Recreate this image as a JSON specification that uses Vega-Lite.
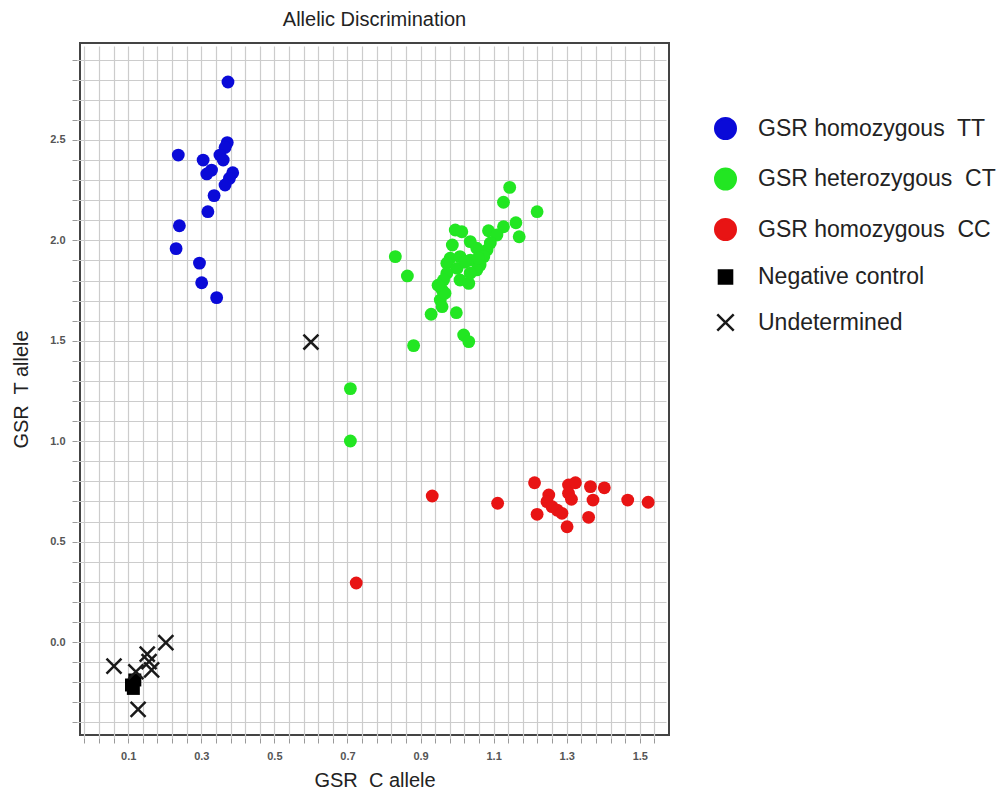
{
  "$schema": "https://vega.github.io/schema/vega-lite/v6.json",
  "autosize": {"type": "none"},
  "padding": {"left": 80, "top": 43, "right": 337, "bottom": 61},
  "width": 589,
  "height": 692,
  "background": "white",
  "config": {
    "font": "Liberation Sans",
    "view": {"stroke": "#444444", "strokeWidth": 2},
    "axis": {"domain": false, "gridColor": "#cccccc", "gridWidth": 1.2, "tickColor": "#9a9a9a", "tickSize": 5, "tickWidth": 1, "offset": 3, "labelPadding": 7, "labelColor": "#555555", "labelFontSize": 11, "labelFontWeight": "bold", "titleFontSize": 20, "titleFontWeight": "normal", "titleColor": "#222222"}
  },
  "title": {"text": "Allelic Discrimination", "fontSize": 20, "fontWeight": "normal", "color": "#222222", "anchor": "middle", "offset": 13},
  "data": {"values": [
    {"g": "GSR homozygous\u00a0 TT", "x": 0.373, "y": 2.789},
    {"g": "GSR homozygous\u00a0 TT", "x": 0.237, "y": 2.425},
    {"g": "GSR homozygous\u00a0 TT", "x": 0.305, "y": 2.400},
    {"g": "GSR homozygous\u00a0 TT", "x": 0.371, "y": 2.487},
    {"g": "GSR homozygous\u00a0 TT", "x": 0.365, "y": 2.463},
    {"g": "GSR homozygous\u00a0 TT", "x": 0.351, "y": 2.425},
    {"g": "GSR homozygous\u00a0 TT", "x": 0.360, "y": 2.400},
    {"g": "GSR homozygous\u00a0 TT", "x": 0.328, "y": 2.350},
    {"g": "GSR homozygous\u00a0 TT", "x": 0.315, "y": 2.331},
    {"g": "GSR homozygous\u00a0 TT", "x": 0.386, "y": 2.337},
    {"g": "GSR homozygous\u00a0 TT", "x": 0.377, "y": 2.309},
    {"g": "GSR homozygous\u00a0 TT", "x": 0.365, "y": 2.276},
    {"g": "GSR homozygous\u00a0 TT", "x": 0.335, "y": 2.223},
    {"g": "GSR homozygous\u00a0 TT", "x": 0.318, "y": 2.143},
    {"g": "GSR homozygous\u00a0 TT", "x": 0.240, "y": 2.073},
    {"g": "GSR homozygous\u00a0 TT", "x": 0.231, "y": 1.959},
    {"g": "GSR homozygous\u00a0 TT", "x": 0.295, "y": 1.887},
    {"g": "GSR homozygous\u00a0 TT", "x": 0.301, "y": 1.789},
    {"g": "GSR homozygous\u00a0 TT", "x": 0.342, "y": 1.715},
    {"g": "GSR heterozygous\u00a0 CT", "x": 1.144, "y": 2.264},
    {"g": "GSR heterozygous\u00a0 CT", "x": 1.127, "y": 2.190},
    {"g": "GSR heterozygous\u00a0 CT", "x": 1.219, "y": 2.143},
    {"g": "GSR heterozygous\u00a0 CT", "x": 1.161, "y": 2.088},
    {"g": "GSR heterozygous\u00a0 CT", "x": 1.127, "y": 2.068},
    {"g": "GSR heterozygous\u00a0 CT", "x": 1.170, "y": 2.018},
    {"g": "GSR heterozygous\u00a0 CT", "x": 1.086, "y": 2.048},
    {"g": "GSR heterozygous\u00a0 CT", "x": 1.109, "y": 2.027},
    {"g": "GSR heterozygous\u00a0 CT", "x": 0.995, "y": 2.052},
    {"g": "GSR heterozygous\u00a0 CT", "x": 1.013, "y": 2.043},
    {"g": "GSR heterozygous\u00a0 CT", "x": 1.036, "y": 1.994},
    {"g": "GSR heterozygous\u00a0 CT", "x": 1.082, "y": 1.952},
    {"g": "GSR heterozygous\u00a0 CT", "x": 1.054, "y": 1.961},
    {"g": "GSR heterozygous\u00a0 CT", "x": 1.073, "y": 1.919},
    {"g": "GSR heterozygous\u00a0 CT", "x": 0.981, "y": 1.911},
    {"g": "GSR heterozygous\u00a0 CT", "x": 1.008, "y": 1.919},
    {"g": "GSR heterozygous\u00a0 CT", "x": 1.036, "y": 1.902},
    {"g": "GSR heterozygous\u00a0 CT", "x": 1.063, "y": 1.877},
    {"g": "GSR heterozygous\u00a0 CT", "x": 0.972, "y": 1.886},
    {"g": "GSR heterozygous\u00a0 CT", "x": 1.000, "y": 1.861},
    {"g": "GSR heterozygous\u00a0 CT", "x": 1.054, "y": 1.853},
    {"g": "GSR heterozygous\u00a0 CT", "x": 0.831, "y": 1.919},
    {"g": "GSR heterozygous\u00a0 CT", "x": 0.864, "y": 1.823},
    {"g": "GSR heterozygous\u00a0 CT", "x": 0.972, "y": 1.836},
    {"g": "GSR heterozygous\u00a0 CT", "x": 0.963, "y": 1.803},
    {"g": "GSR heterozygous\u00a0 CT", "x": 1.008, "y": 1.803},
    {"g": "GSR heterozygous\u00a0 CT", "x": 1.032, "y": 1.786},
    {"g": "GSR heterozygous\u00a0 CT", "x": 0.959, "y": 1.753},
    {"g": "GSR heterozygous\u00a0 CT", "x": 0.954, "y": 1.703},
    {"g": "GSR heterozygous\u00a0 CT", "x": 0.959, "y": 1.670},
    {"g": "GSR heterozygous\u00a0 CT", "x": 0.929, "y": 1.632},
    {"g": "GSR heterozygous\u00a0 CT", "x": 0.998, "y": 1.640},
    {"g": "GSR heterozygous\u00a0 CT", "x": 1.018, "y": 1.529},
    {"g": "GSR heterozygous\u00a0 CT", "x": 1.032, "y": 1.496},
    {"g": "GSR heterozygous\u00a0 CT", "x": 0.881, "y": 1.476},
    {"g": "GSR heterozygous\u00a0 CT", "x": 0.987, "y": 1.977},
    {"g": "GSR heterozygous\u00a0 CT", "x": 1.022, "y": 1.892},
    {"g": "GSR heterozygous\u00a0 CT", "x": 1.058, "y": 1.912},
    {"g": "GSR heterozygous\u00a0 CT", "x": 1.091, "y": 1.987},
    {"g": "GSR heterozygous\u00a0 CT", "x": 0.967, "y": 1.737},
    {"g": "GSR heterozygous\u00a0 CT", "x": 1.036, "y": 1.837},
    {"g": "GSR heterozygous\u00a0 CT", "x": 0.948, "y": 1.777},
    {"g": "GSR heterozygous\u00a0 CT", "x": 0.708, "y": 1.262},
    {"g": "GSR heterozygous\u00a0 CT", "x": 0.708, "y": 1.001},
    {"g": "GSR homozygous\u00a0 CC", "x": 1.212, "y": 0.793},
    {"g": "GSR homozygous\u00a0 CC", "x": 1.111, "y": 0.691},
    {"g": "GSR homozygous\u00a0 CC", "x": 1.219, "y": 0.636},
    {"g": "GSR homozygous\u00a0 CC", "x": 1.251, "y": 0.732},
    {"g": "GSR homozygous\u00a0 CC", "x": 1.246, "y": 0.699},
    {"g": "GSR homozygous\u00a0 CC", "x": 1.260, "y": 0.674},
    {"g": "GSR homozygous\u00a0 CC", "x": 1.274, "y": 0.657},
    {"g": "GSR homozygous\u00a0 CC", "x": 1.287, "y": 0.641},
    {"g": "GSR homozygous\u00a0 CC", "x": 1.301, "y": 0.574},
    {"g": "GSR homozygous\u00a0 CC", "x": 1.305, "y": 0.782},
    {"g": "GSR homozygous\u00a0 CC", "x": 1.324, "y": 0.793},
    {"g": "GSR homozygous\u00a0 CC", "x": 1.305, "y": 0.741},
    {"g": "GSR homozygous\u00a0 CC", "x": 1.313, "y": 0.711},
    {"g": "GSR homozygous\u00a0 CC", "x": 1.365, "y": 0.774},
    {"g": "GSR homozygous\u00a0 CC", "x": 1.372, "y": 0.707},
    {"g": "GSR homozygous\u00a0 CC", "x": 1.360, "y": 0.621},
    {"g": "GSR homozygous\u00a0 CC", "x": 1.403, "y": 0.768},
    {"g": "GSR homozygous\u00a0 CC", "x": 1.467, "y": 0.707},
    {"g": "GSR homozygous\u00a0 CC", "x": 1.523, "y": 0.696},
    {"g": "GSR homozygous\u00a0 CC", "x": 0.932, "y": 0.727},
    {"g": "GSR homozygous\u00a0 CC", "x": 0.724, "y": 0.294},
    {"g": "Negative control", "x": 0.109, "y": -0.214},
    {"g": "Negative control", "x": 0.118, "y": -0.189},
    {"g": "Negative control", "x": 0.114, "y": -0.231},
    {"g": "Undetermined", "x": 0.600, "y": 1.494},
    {"g": "Undetermined", "x": 0.203, "y": -0.003},
    {"g": "Undetermined", "x": 0.061, "y": -0.120},
    {"g": "Undetermined", "x": 0.152, "y": -0.060},
    {"g": "Undetermined", "x": 0.164, "y": -0.139},
    {"g": "Undetermined", "x": 0.157, "y": -0.098},
    {"g": "Undetermined", "x": 0.127, "y": -0.335},
    {"g": "Undetermined", "x": 0.121, "y": -0.148}
  ]},
  "encoding": {
    "x": {"field": "x", "type": "quantitative",
      "scale": {"domain": [-0.032, 1.58], "nice": false, "zero": false},
      "axis": {"title": "GSR\u00a0 C allele", "titlePadding": 9,
        "values": [-0.02,0.02,0.06,0.1,0.14,0.18,0.22,0.26,0.3,0.34,0.38,0.42,0.46,0.5,0.54,0.58,0.62,0.66,0.7,0.74,0.78,0.82,0.86,0.9,0.94,0.98,1.02,1.06,1.1,1.14,1.18,1.22,1.26,1.3,1.34,1.38,1.42,1.46,1.5,1.54],
        "labelExpr": "abs((datum.value-0.1)/0.2 - round((datum.value-0.1)/0.2)) < 0.01 ? format(datum.value, '.1f') : ''"}},
    "y": {"field": "y", "type": "quantitative",
      "scale": {"domain": [-0.463, 2.983], "nice": false, "zero": false},
      "axis": {"title": "GSR\u00a0 T allele", "titlePadding": 18,
        "values": [-0.4,-0.3,-0.2,-0.1,0,0.1,0.2,0.3,0.4,0.5,0.6,0.7,0.8,0.9,1,1.1,1.2,1.3,1.4,1.5,1.6,1.7,1.8,1.9,2,2.1,2.2,2.3,2.4,2.5,2.6,2.7,2.8,2.9],
        "labelExpr": "abs(datum.value*2 - round(datum.value*2)) < 0.01 ? format(datum.value, '.1f') : ''"}},
    "color": {"field": "g", "type": "nominal",
      "scale": {"domain": ["GSR homozygous\u00a0 TT", "GSR heterozygous\u00a0 CT", "GSR homozygous\u00a0 CC", "Negative control", "Undetermined"],
                "range": ["#0a0ad8", "#22e622", "#e81414", "#000000", "#1a1a1a"]},
      "legend": {"orient": "none", "legendX": 634, "legendY": 74, "title": null, "padding": 0,
        "labelFontSize": 23, "labelColor": "#222222", "labelFont": "Liberation Sans", "labelLimit": 400,
        "symbolSize": 420, "symbolStrokeWidth": 2.5, "rowPadding": 19.5, "labelOffset": 21}},
    "shape": {"field": "g", "type": "nominal",
      "scale": {"domain": ["GSR homozygous\u00a0 TT", "GSR heterozygous\u00a0 CT", "GSR homozygous\u00a0 CC", "Negative control", "Undetermined"],
                "range": ["circle", "circle", "circle", "M-0.64,-0.64H0.64V0.64H-0.64Z", "M-0.8,-0.8L0.8,0.8M-0.8,0.8L0.8,-0.8"]},
      "legend": null}
  },
  "layer": [
    {"transform": [{"filter": "datum.g !== 'Undetermined' && datum.g !== 'Negative control'"}],
     "mark": {"type": "point", "filled": true, "size": 165, "opacity": 1}},
    {"transform": [{"filter": "datum.g === 'Negative control'"}],
     "mark": {"type": "point", "filled": true, "size": 412, "opacity": 1}},
    {"transform": [{"filter": "datum.g === 'Undetermined'"}],
     "mark": {"type": "point", "filled": false, "size": 350, "strokeWidth": 2.5, "opacity": 1}}
  ]
}
